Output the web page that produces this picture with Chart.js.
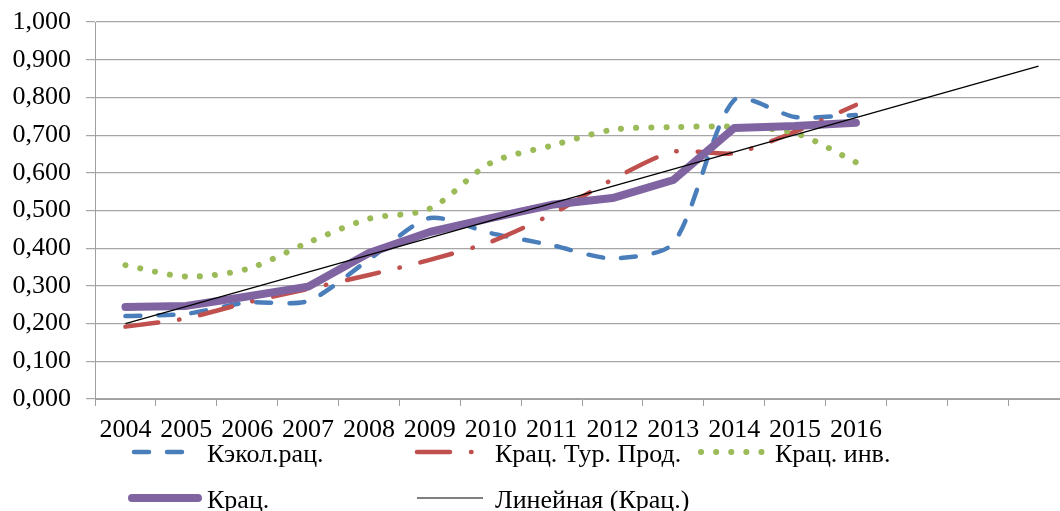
<!DOCTYPE html>
<html>
<head>
<meta charset="utf-8">
<script src="https://cdn.jsdelivr.net/npm/chart.js@4.4.1/dist/chart.umd.min.js"></script>
<style>
body { margin: 0; overflow: hidden; background: #fff; }
</style>
</head>
<body>
<canvas id="chart" width="1070" height="511"></canvas>
<script>
// categories: 13 years plus 3 empty slots for the trend forecast
const years = ['2004', '2005', '2006', '2007', '2008', '2009', '2010', '2011', '2012', '2013', '2014', '2015', '2016', '', '', ''];

const kEcol = [0.220, 0.226, 0.256, 0.260, 0.370, 0.480, 0.440, 0.408, 0.373, 0.413, 0.793, 0.748, 0.753];
const kTur = [0.192, 0.214, 0.256, 0.292, 0.329, 0.369, 0.417, 0.490, 0.582, 0.656, 0.652, 0.709, 0.780];
const kInv = [0.355, 0.325, 0.345, 0.415, 0.478, 0.505, 0.626, 0.672, 0.714, 0.721, 0.722, 0.705, 0.628];
const kRac = [0.244, 0.247, 0.272, 0.298, 0.387, 0.443, 0.480, 0.515, 0.533, 0.581, 0.719, 0.724, 0.733];
// linear trend of Крац.: first and last point
const trend = [0.200, null, null, null, null, null, null, null, null, null, null, null, null, null, null, 0.883];

const yTicks = [0, 0.1, 0.2, 0.3, 0.4, 0.5, 0.6, 0.7, 0.8, 0.9, 1.0];

const FONT = '"Liberation Serif", "Times New Roman", serif';

// where each legend entry sits below the axis
const legendItems = [
    { index: 0, x1: 134, x2: 186, y: 452, tx: 207 },
    { index: 1, x1: 417, x2: 474, y: 452, tx: 495 },
    { index: 2, x1: 701, x2: 763, y: 452, tx: 775 },
    { index: 3, x1: 132, x2: 198, y: 498, tx: 207 },
    { index: 4, x1: 417, x2: 483, y: 498, tx: 495 }
];

const legendPlugin = { // draws the two-row legend like the original
    id: 'customLegend',
    afterDraw(chart) {
        const ctx = chart.ctx;
        ctx.save();
        ctx.font = '26px ' + FONT;
        ctx.fillStyle = '#000';
        ctx.textBaseline = 'alphabetic';
        legendItems.forEach(item => {
            const ds = chart.data.datasets[item.index];
            ctx.beginPath();
            ctx.strokeStyle = ds.borderColor;
            ctx.lineWidth = ds.borderWidth;
            ctx.lineCap = ds.borderCapStyle || 'butt';
            ctx.setLineDash(ds.borderDash || []);
            ctx.moveTo(item.x1, item.y);
            ctx.lineTo(item.x2, item.y);
            ctx.stroke();
            ctx.setLineDash([]);
            ctx.fillText(ds.label, item.tx, item.y + 9.5);
        });
        ctx.restore();
    }
};

const ctx = document.getElementById('chart').getContext('2d');
new Chart(ctx, {
    type: 'line',
    data: {
        labels: years,
        datasets: [
            {
                label: 'Кэкол.рац.',
                data: kEcol,
                borderColor: '#4a7ebb',
                borderWidth: 4.5,
                borderDash: [15, 18],
                borderCapStyle: 'round',
                tension: 0.25,
                order: 4
            },
            {
                label: 'Крац. Тур. Прод.',
                data: kTur,
                borderColor: '#c0504d',
                borderWidth: 4.5,
                borderDash: [33, 21, 0.5, 21],
                borderCapStyle: 'round',
                tension: 0.25,
                order: 3
            },
            {
                label: 'Крац. инв.',
                data: kInv,
                borderColor: '#9bbb59',
                borderWidth: 6,
                borderDash: [0.1, 15],
                borderCapStyle: 'round',
                tension: 0.3,
                order: 2
            },
            {
                label: 'Крац.',
                data: kRac,
                borderColor: '#8064a2',
                borderWidth: 8,
                borderCapStyle: 'round',
                borderJoinStyle: 'round',
                tension: 0,
                order: 1
            },
            {
                label: 'Линейная (Крац.)',
                data: trend,
                borderColor: '#000000',
                borderWidth: 1.2,
                spanGaps: true,
                tension: 0,
                order: 0
            }
        ]
    },
    options: {
        responsive: false,
        animation: false,
        layout: { padding: { top: 0, right: 1, left: 0, bottom: 0 } },
        elements: { point: { radius: 0, hoverRadius: 0 } },
        plugins: {
            legend: { display: false },
            tooltip: { enabled: false }
        },
        scales: {
            x: {
                offset: true,
                grid: {
                    offset: true,
                    drawOnChartArea: false,
                    drawTicks: true,
                    tickLength: 7,
                    color: '#a0a0a0'
                },
                border: { color: '#a0a0a0' },
                ticks: {
                    autoSkip: false,
                    maxRotation: 0,
                    padding: 9,
                    color: '#000',
                    font: { family: FONT, size: 26 }
                },
                afterFit: scale => { scale.height = 112; }
            },
            y: {
                min: 0,
                max: 1,
                afterBuildTicks: scale => { scale.ticks = yTicks.map(v => ({ value: v })); },
                grid: {
                    color: '#a6a6a6',
                    lineWidth: 1.2,
                    tickLength: 9
                },
                border: { color: '#a0a0a0' },
                ticks: {
                    padding: 15,
                    color: '#000',
                    font: { family: FONT, size: 26 },
                    callback: v => v.toFixed(3).replace('.', ',')
                },
                afterFit: scale => {
                    scale.width = 95;
                    scale.paddingTop = 22;
                    scale.paddingBottom = 0;
                }
            }
        }
    },
    plugins: [legendPlugin]
});
</script>
</body>
</html>
